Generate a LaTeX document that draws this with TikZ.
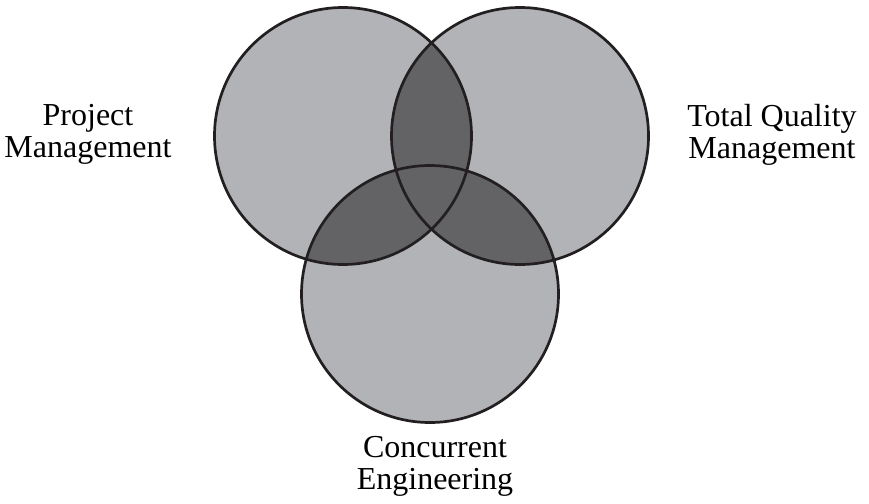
\documentclass[tikz,border=0pt]{standalone}
\usepackage{fontspec}
\setmainfont{Liberation Serif}
\definecolor{lightfill}{RGB}{178,179,183}
\definecolor{darkfill}{RGB}{99,99,101}
\definecolor{edge}{RGB}{35,31,32}
\tikzset{
  ring/.style={draw=edge, line width=2.7pt},
  label/.style={align=center, inner sep=0pt, font=\fontsize{32}{32}\selectfont, text=black}
}
\begin{document}
\begin{tikzpicture}[x=1pt,y=-1pt]
\useasboundingbox (0,0) rectangle (869,503);
\def\R{128.5pt}
\coordinate (pm) at (343,136);
\coordinate (tq) at (520,136);
\coordinate (ce) at (430,294);
% base fills
\fill[lightfill] (pm) circle[radius=\R];
\fill[lightfill] (tq) circle[radius=\R];
\fill[lightfill] (ce) circle[radius=\R];
% overlaps
\begin{scope}
  \clip (pm) circle[radius=\R];
  \fill[darkfill] (tq) circle[radius=\R];
  \fill[darkfill] (ce) circle[radius=\R];
\end{scope}
\begin{scope}
  \clip (tq) circle[radius=\R];
  \fill[darkfill] (ce) circle[radius=\R];
\end{scope}
% outlines
\draw[ring] (pm) circle[radius=\R];
\draw[ring] (tq) circle[radius=\R];
\draw[ring] (ce) circle[radius=\R];
% labels
\node[label] (lpm) at (88,134.5) {Project\\Management};
\node[label] (ltq) at (772,134.5) {Total Quality\\Management};
\node[label] (lce) at (435,466) {Concurrent\\Engineering};
\end{tikzpicture}
\end{document}
